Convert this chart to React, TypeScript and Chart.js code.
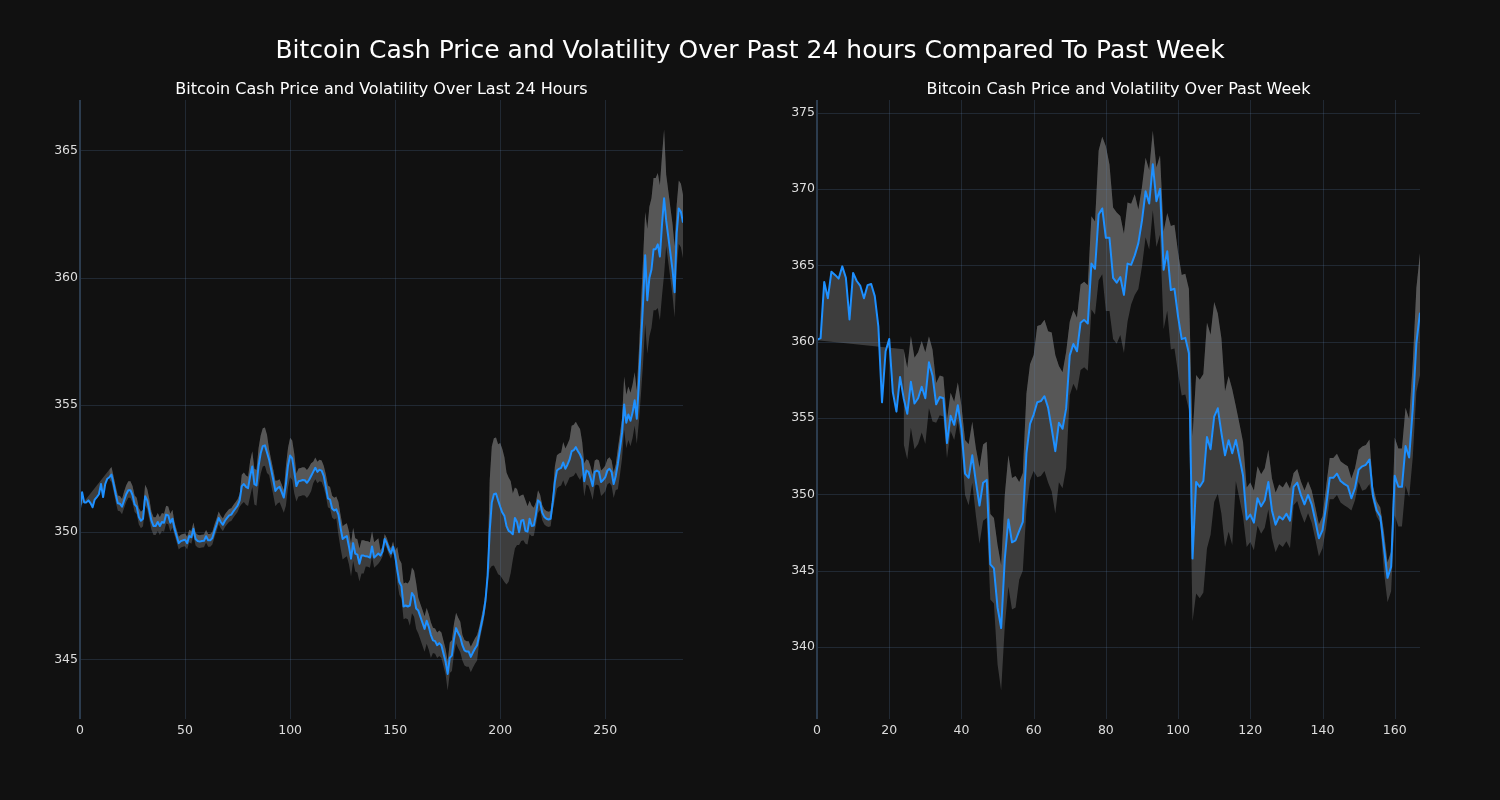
import React, { useEffect, useRef } from "react";
import { Chart, registerables } from "chart.js";

Chart.register(...registerables);

// ---------- Last 24 hours (5-minute steps) ----------
const price24: number[] = [
  350.93,351.57,351.17,351.17,351.25,351.14,350.98,351.28,351.38,351.49,
  351.89,351.38,351.89,352.10,352.16,352.26,351.89,351.49,351.14,351.12,
  351.00,351.25,351.49,351.65,351.65,351.46,351.09,351.00,350.60,350.45,
  350.53,351.41,351.25,350.85,350.45,350.24,350.24,350.40,350.24,350.40,
  350.37,350.69,350.66,350.37,350.53,350.13,349.85,349.57,349.65,349.68,
  349.70,349.57,349.85,349.80,350.13,349.73,349.65,349.63,349.65,349.66,
  349.84,349.68,349.68,349.77,350.05,350.29,350.56,350.40,350.29,350.45,
  350.56,350.66,350.69,350.82,350.93,351.04,351.25,351.81,351.89,351.78,
  351.73,352.21,352.58,351.89,351.84,352.61,353.10,353.38,353.41,353.13,
  352.85,352.45,352.05,351.62,351.73,351.78,351.57,351.36,351.89,352.61,
  353.01,352.90,352.37,351.81,352.00,352.02,352.05,352.04,351.94,352.05,
  352.21,352.37,352.53,352.37,352.45,352.42,352.21,351.78,351.33,351.28,
  350.93,350.85,350.90,350.69,350.18,349.73,349.80,349.85,349.44,348.96,
  349.57,349.16,349.12,348.76,349.08,349.08,349.05,349.04,349.00,349.44,
  349.00,349.08,349.16,349.08,349.24,349.73,349.57,349.32,349.16,349.43,
  349.08,348.52,348.04,347.88,347.08,347.12,347.08,347.12,347.61,347.48,
  347.00,346.92,346.68,346.44,346.20,346.52,346.28,345.96,345.75,345.72,
  345.56,345.64,345.56,345.23,344.91,344.43,345.07,345.15,345.80,346.23,
  346.04,345.88,345.56,345.36,345.31,345.31,345.10,345.27,345.43,345.56,
  345.96,346.36,346.76,347.32,348.28,350.05,351.17,351.49,351.52,351.25,
  351.00,350.77,350.64,350.24,350.05,350.00,349.92,350.56,350.40,350.00,
  350.45,350.48,350.05,350.02,350.53,350.24,350.26,350.69,351.25,351.17,
  350.77,350.60,350.53,350.50,350.53,351.17,351.97,352.42,352.49,352.53,
  352.74,352.49,352.65,352.85,353.18,353.22,353.34,353.18,353.05,352.85,
  352.00,352.42,352.37,352.13,351.81,352.37,352.42,352.37,351.97,352.05,
  352.16,352.42,352.49,352.37,351.89,352.21,352.69,353.26,353.90,355.02,
  354.30,354.62,354.38,354.70,355.18,354.46,355.82,357.43,359.03,360.88,
  359.11,359.99,360.32,361.12,361.12,361.31,360.83,362.08,363.12,362.24,
  361.60,360.96,360.32,359.43,361.76,362.72,362.59,362.16,
];

// distance from the price up to the upper edge of the volatility band
const volUp24: (number | null)[] = [
  0.07,null,null,null,null,null,null,null,null,null,
  null,null,null,null,0.3,0.3,0.3,0.3,0.3,0.3,
  0.3,0.35,0.35,0.35,0.35,0.35,0.35,0.35,0.35,0.35,
  0.35,0.45,0.45,0.45,0.35,0.35,0.35,0.35,0.35,0.35,
  0.35,0.35,0.35,0.35,0.35,0.25,0.25,0.25,0.25,0.25,
  0.25,0.25,0.25,0.25,0.25,0.25,0.25,0.25,0.25,0.25,
  0.25,0.25,0.25,0.25,0.25,0.25,0.25,0.25,0.25,0.25,
  0.25,0.25,0.25,0.25,0.25,0.25,0.25,0.45,0.45,0.45,
  0.45,0.6,0.6,0.6,0.6,0.7,0.7,0.7,0.7,0.7,
  0.4,0.4,0.4,0.4,0.3,0.3,0.3,0.3,0.7,0.7,
  0.7,0.7,0.7,0.5,0.5,0.5,0.5,0.5,0.5,0.5,
  0.5,0.4,0.4,0.4,0.4,0.4,0.4,0.5,0.5,0.5,
  0.5,0.5,0.5,0.5,0.5,0.5,0.5,0.5,0.6,0.6,
  0.6,0.6,0.6,0.6,0.6,0.6,0.6,0.6,0.6,0.6,
  0.6,0.6,0.6,0.2,0.2,0.2,0.2,0.2,0.2,0.2,
  0.2,0.9,0.9,0.9,0.9,0.9,0.9,1.0,1.0,1.0,
  1.0,0.5,0.5,0.5,0.5,0.5,0.5,0.5,0.5,0.5,
  0.5,0.5,0.5,0.5,0.5,0.5,0.6,0.6,0.6,0.6,
  0.6,0.6,0.4,0.4,0.4,0.4,0.4,0.4,0.4,0.4,
  0.3,0.3,0.3,0.3,0.3,2.0,2.2,2.2,2.2,2.2,
  2.5,2.5,2.3,2.1,2.1,2.0,1.6,1.2,1.3,1.4,
  1.0,1.0,1.2,1.0,0.7,0.8,0.7,0.5,0.4,0.3,
  0.3,0.3,0.3,0.3,0.3,0.3,0.6,0.6,0.6,0.6,
  0.8,0.8,0.8,0.8,1.0,1.0,1.0,1.0,1.0,0.7,
  0.7,0.45,0.45,0.45,0.45,0.45,0.45,0.45,0.45,0.45,
  0.45,0.45,0.45,0.45,0.45,0.45,0.6,0.6,0.6,1.1,
  1.1,1.1,1.1,1.1,1.1,1.1,1.3,1.5,1.7,1.7,
  2.8,2.8,2.8,2.8,2.8,2.8,2.8,2.7,2.7,1.8,
  1.8,1.8,1.8,1.8,1.1,1.1,1.1,1.1,
];

// distance from the price down to the lower edge of the volatility band
const volDown24: (number | null)[] = [
  null,null,null,null,null,null,null,null,null,null,
  null,null,null,null,0.1,0.3,0.3,0.3,0.3,0.3,
  0.3,0.3,0.3,0.3,0.3,0.3,0.3,0.3,0.3,0.3,
  0.3,0.35,0.35,0.35,0.35,0.35,0.35,0.35,0.35,0.35,
  0.35,0.35,0.35,0.35,0.35,0.25,0.25,0.25,0.25,0.25,
  0.25,0.25,0.25,0.25,0.25,0.25,0.25,0.25,0.25,0.25,
  0.25,0.25,0.25,0.25,0.25,0.25,0.25,0.25,0.25,0.25,
  0.25,0.25,0.25,0.25,0.25,0.25,0.25,0.7,0.7,0.7,
  0.7,0.8,0.8,0.8,0.8,0.8,0.8,0.8,0.8,0.8,
  0.6,0.6,0.6,0.6,0.6,0.6,0.6,0.6,0.85,0.85,
  0.85,0.85,0.85,0.6,0.6,0.6,0.6,0.6,0.6,0.6,
  0.6,0.45,0.45,0.45,0.45,0.45,0.45,0.35,0.35,0.35,
  0.35,0.35,0.35,0.8,0.8,0.8,0.8,0.8,0.7,0.7,
  0.7,0.7,0.7,0.7,0.7,0.7,0.4,0.4,0.4,0.4,
  0.4,0.4,0.4,0.2,0.2,0.2,0.2,0.2,0.2,0.2,
  0.2,0.5,0.5,0.5,0.5,0.5,0.5,0.8,0.8,0.8,
  0.8,0.9,0.9,0.9,0.9,0.9,0.9,0.9,0.5,0.5,
  0.5,0.5,0.5,0.5,0.5,0.65,0.6,0.6,0.6,0.6,
  0.6,0.6,0.6,0.6,0.6,0.6,0.6,0.6,0.6,0.6,
  0.3,0.3,0.3,0.3,0.3,1.5,2.5,2.8,3.0,2.9,
  2.7,2.6,2.6,2.3,2.0,1.6,1.0,1.2,0.9,0.5,
  0.8,0.8,0.5,0.5,0.6,0.4,0.4,0.4,0.5,0.3,
  0.3,0.3,0.3,0.3,0.3,0.3,0.7,0.7,0.7,0.7,
  0.7,0.7,0.7,0.7,1.0,1.0,1.0,1.0,1.0,0.6,
  0.6,0.55,0.55,0.55,0.55,0.55,0.55,0.55,0.55,0.55,
  0.55,0.55,0.55,0.55,0.55,0.55,1.0,1.0,1.0,1.0,
  1.0,1.0,1.0,1.0,1.0,1.0,1.5,2.0,2.4,2.7,
  2.1,2.3,2.3,2.4,2.4,2.5,2.5,2.8,3.0,1.0,
  1.0,1.0,1.0,1.0,1.4,1.4,1.4,1.4,
];

const xTicks24: number[] = [0, 50, 100, 150, 200, 250];
const yTicks24: number[] = [345, 350, 355, 360, 365];

// ---------- Past week (hourly steps) ----------
const priceWeek: number[] = [
  360.12,360.23,363.91,362.84,364.58,364.37,364.13,364.93,364.18,361.45,
  364.50,363.97,363.65,362.84,363.70,363.78,362.98,360.98,356.03,359.37,
  360.17,356.70,355.42,357.69,356.30,355.28,357.37,355.95,356.30,357.05,
  356.30,358.65,357.77,355.90,356.38,356.30,353.36,355.15,354.56,355.84,
  354.30,351.36,351.09,352.56,350.82,349.27,350.77,350.95,345.42,345.16,
  342.59,341.26,345.74,348.36,346.87,347.00,347.62,348.20,352.69,354.62,
  355.23,356.03,356.11,356.43,355.68,354.30,352.83,354.70,354.30,355.63,
  359.10,359.85,359.37,361.24,361.43,361.19,365.11,364.77,368.32,368.72,
  366.80,366.80,364.18,363.86,364.23,363.06,365.11,365.03,365.65,366.45,
  367.92,369.84,369.04,371.61,369.20,370.00,364.71,365.92,363.38,363.46,
  361.64,360.17,360.25,359.24,345.80,350.82,350.50,350.88,353.76,352.96,
  355.10,355.64,354.03,352.56,353.55,352.69,353.57,352.42,351.22,348.36,
  348.68,348.15,349.75,349.22,349.62,350.82,348.95,348.02,348.55,348.36,
  348.74,348.28,350.50,350.77,349.97,349.35,349.97,349.35,348.28,347.13,
  347.67,349.22,351.09,351.09,351.36,350.88,350.69,350.55,349.75,350.42,
  351.62,351.84,351.94,352.29,349.89,348.95,348.55,346.55,344.54,345.26,
  351.22,350.50,350.50,353.17,352.42,355.63,359.91,361.90,
];

const volUpWeek: (number | null)[] = [
  -0.02,null,null,null,null,null,null,null,null,null,
  null,null,null,null,null,null,null,null,null,null,
  null,null,null,null,3.2,3.0,3.0,3.0,3.0,3.0,
  3.0,1.7,1.7,1.4,1.4,1.4,1.5,1.5,1.5,1.5,
  1.5,2.2,2.2,2.2,2.2,2.5,2.5,2.5,3.3,3.3,
  4.1,4.1,4.2,4.2,4.2,4.2,3.2,3.2,3.9,3.9,
  3.9,5.0,5.0,5.0,5.0,6.3,6.3,3.7,3.7,3.7,
  2.2,2.2,2.2,2.5,2.5,2.5,3.1,3.1,4.2,4.7,
  6.0,4.8,4.6,4.6,4.0,4.0,4.0,4.0,4.0,2.2,
  2.2,2.2,2.2,2.2,2.2,2.2,2.5,2.5,4.2,4.2,
  4.2,4.2,4.2,4.2,8.0,7.0,7.0,7.0,7.5,7.5,
  7.5,6.2,6.2,4.2,4.2,4.2,2.2,2.2,2.2,2.1,
  2.1,2.1,2.1,2.1,2.1,2.1,2.1,2.1,2.1,2.1,
  2.1,2.1,0.9,0.9,0.9,0.9,0.9,0.9,0.9,0.9,
  0.9,1.3,1.3,1.3,1.3,1.3,1.3,1.3,1.3,1.3,
  1.3,1.3,1.3,1.3,0.6,0.6,0.6,1.0,1.0,1.0,
  2.5,2.5,2.5,2.5,2.5,3.0,3.6,3.9,
];

const volDownWeek: (number | null)[] = [
  null,null,null,null,null,null,null,null,null,null,
  null,null,null,null,null,null,null,null,null,null,
  null,null,null,null,3.0,3.0,3.0,3.0,3.0,3.0,
  3.0,3.0,3.0,1.2,1.2,1.2,1.0,1.0,1.0,1.0,
  1.0,1.4,1.8,1.8,2.2,2.5,2.5,2.5,2.3,2.3,
  3.7,4.1,4.4,4.4,4.4,4.4,3.2,3.2,3.7,3.7,
  3.7,4.9,4.9,4.9,4.9,4.1,4.1,3.9,3.9,3.9,
  2.6,2.6,2.6,3.1,3.1,3.1,3.0,3.0,4.3,4.3,
  4.8,4.8,4.0,4.0,3.8,3.8,3.8,2.6,2.6,3.0,
  3.0,3.0,3.0,3.0,3.0,3.0,3.9,3.9,3.9,3.9,
  3.7,3.7,3.7,3.7,4.1,7.3,7.3,7.3,7.3,5.6,
  5.6,5.6,5.3,6.0,6.0,6.0,2.7,2.7,2.7,1.8,
  1.8,1.8,1.8,1.8,1.8,1.8,1.8,1.8,1.8,1.8,
  1.8,1.8,1.2,1.2,1.2,1.2,1.2,1.2,1.2,1.2,
  1.2,1.4,1.4,1.4,1.4,1.4,1.4,1.4,0.8,0.8,
  0.8,1.6,1.6,1.6,0.4,0.4,0.4,1.6,1.6,1.6,
  2.6,2.6,2.6,2.6,2.6,3.2,3.2,4.1,
];

const xTicksWeek: number[] = [0, 20, 40, 60, 80, 100, 120, 140, 160];
const yTicksWeek: number[] = [340, 345, 350, 355, 360, 365, 370, 375];

const SUPTITLE = "Bitcoin Cash Price and Volatility Over Past 24 hours Compared To Past Week";
const TITLE_24 = "Bitcoin Cash Price and Volatility Over Last 24 Hours";
const TITLE_WEEK = "Bitcoin Cash Price and Volatility Over Past Week";

// ---------- styling ----------
const BG = "#111111";
const LINE = "#1e90ff";
const BAND = "rgba(128,128,128,0.4)";
const GRID = "rgba(100,140,190,0.2)";
const SPINE = "#2c3c4e";
const TICK = "#dddddd";
const FONT = "'DejaVu Sans', sans-serif";

type Pt = { x: number; y: number };
function toPoints(vals: (number | null)[]): Pt[] {
  const out: Pt[] = [];
  vals.forEach((v, i) => {
    if (v !== null && v !== undefined) out.push({ x: i, y: v });
  });
  return out;
}

const mplPlugin = {
  id: "mplGrid",
  afterDatasetDraw(chart: any, args: any) {
    if (args.index !== 1) return;
    const { ctx, chartArea: a } = chart;
    const x = chart.scales.x;
    const y = chart.scales.y;
    ctx.save();
    ctx.strokeStyle = GRID;
    ctx.lineWidth = 1;
    ctx.beginPath();
    for (const t of x.ticks) {
      const px = Math.round(x.getPixelForValue(t.value)) + 0.5;
      ctx.moveTo(px, a.top);
      ctx.lineTo(px, a.bottom);
    }
    for (const t of y.ticks) {
      const py = Math.round(y.getPixelForValue(t.value)) + 0.5;
      ctx.moveTo(a.left, py);
      ctx.lineTo(a.right, py);
    }
    ctx.stroke();
    ctx.restore();
  },
  afterDatasetsDraw(chart: any) {
    const { ctx, chartArea: a } = chart;
    ctx.save();
    ctx.strokeStyle = SPINE;
    ctx.lineWidth = 2;
    ctx.beginPath();
    ctx.moveTo(a.left, a.top);
    ctx.lineTo(a.left, a.bottom);
    ctx.stroke();
    ctx.restore();
  },
};

type PanelProps = {
  price: number[];
  up: (number | null)[];
  down: (number | null)[];
  xTicks: number[];
  yTicks: number[];
  yMin: number;
  yMax: number;
  left: number;
  yAxisWidth: number;
  padRight: number;
};

function Panel(props: PanelProps) {
  const ref = useRef<HTMLCanvasElement | null>(null);
  useEffect(() => {
    if (!ref.current) return;
    const { price, up, down, xTicks, yTicks, yMin, yMax, yAxisWidth, padRight } = props;
    const upper = price.map((v, i) => (up[i] === null ? null : v + (up[i] as number)));
    const lower = price.map((v, i) => (down[i] === null ? null : v - (down[i] as number)));
    const hidden = "rgba(0,0,0,0)";
    const chart = new Chart(ref.current, {
      type: "line",
      data: {
        datasets: [
          {
            data: toPoints(price),
            borderColor: LINE,
            borderWidth: 2,
            pointRadius: 0,
            fill: false,
            tension: 0,
            borderJoinStyle: "round",
          } as any,
          {
            data: toPoints(upper),
            borderColor: hidden,
            borderWidth: 0,
            pointRadius: 0,
            fill: "+1",
            backgroundColor: BAND,
          },
          {
            data: toPoints(lower),
            borderColor: hidden,
            borderWidth: 0,
            pointRadius: 0,
            fill: false,
          },
          {
            data: toPoints(upper),
            borderColor: hidden,
            borderWidth: 0,
            pointRadius: 0,
            fill: "-3",
            backgroundColor: BAND,
          },
        ],
      },
      options: {
        animation: false,
        responsive: false,
        maintainAspectRatio: false,
        layout: { padding: { top: 100, right: padRight, left: 0, bottom: 0 } },
        plugins: {
          legend: { display: false },
          tooltip: { enabled: false },
          title: { display: false },
        },
        scales: {
          x: {
            type: "linear",
            min: 0,
            max: price.length - 1,
            grid: { display: false, drawTicks: false },
            border: { display: false },
            ticks: {
              color: TICK,
              font: { family: FONT, size: 12.5 },
              padding: 4,
              maxRotation: 0,
              autoSkip: false,
              callback: (v: any) => String(v),
            },
            afterBuildTicks: (s: any) => {
              s.ticks = xTicks.map((v) => ({ value: v }));
            },
            afterFit: (s: any) => {
              s.height = 81;
            },
          },
          y: {
            type: "linear",
            min: yMin,
            max: yMax,
            grid: { display: false, drawTicks: false },
            border: { display: false },
            ticks: {
              color: TICK,
              font: { family: FONT, size: 12.5 },
              padding: 2,
              autoSkip: false,
              callback: (v: any) => String(v),
            },
            afterBuildTicks: (s: any) => {
              s.ticks = yTicks.map((v) => ({ value: v }));
            },
            afterFit: (s: any) => {
              s.width = yAxisWidth;
            },
          },
        },
      },
      plugins: [mplPlugin],
    });
    return () => chart.destroy();
  }, []);
  return (
    <canvas
      ref={ref}
      width={750}
      height={800}
      style={{ position: "absolute", left: props.left, top: 0, width: 750, height: 800 }}
    />
  );
}

export default function App() {
  useEffect(() => {
    document.body.style.margin = "0";
    document.body.style.background = BG;
  }, []);
  const titleStyle: React.CSSProperties = {
    position: "absolute",
    color: "#ffffff",
    fontFamily: FONT,
    whiteSpace: "nowrap",
    textAlign: "center",
  };
  return (
    <div style={{ position: "absolute", left: 0, top: 0, width: 1500, height: 800, background: BG, overflow: "hidden" }}>
      <Panel
        price={price24}
        up={volUp24}
        down={volDown24}
        xTicks={xTicks24}
        yTicks={yTicks24}
        yMin={342.66}
        yMax={366.98}
        left={0}
        yAxisWidth={80}
        padRight={67}
      />
      <Panel
        price={priceWeek}
        up={volUpWeek}
        down={volDownWeek}
        xTicks={xTicksWeek}
        yTicks={yTicksWeek}
        yMin={335.3}
        yMax={375.82}
        left={750}
        yAxisWidth={67}
        padRight={80}
      />
      <div style={{ ...titleStyle, left: 0, width: 1500, top: 35, height: 30, lineHeight: "30px", fontSize: 25 }}>
        {SUPTITLE}
      </div>
      <div style={{ ...titleStyle, left: 80, width: 603, top: 79, height: 20, lineHeight: "20px", fontSize: 16 }}>
        {TITLE_24}
      </div>
      <div style={{ ...titleStyle, left: 817, width: 603, top: 79, height: 20, lineHeight: "20px", fontSize: 16 }}>
        {TITLE_WEEK}
      </div>
    </div>
  );
}
